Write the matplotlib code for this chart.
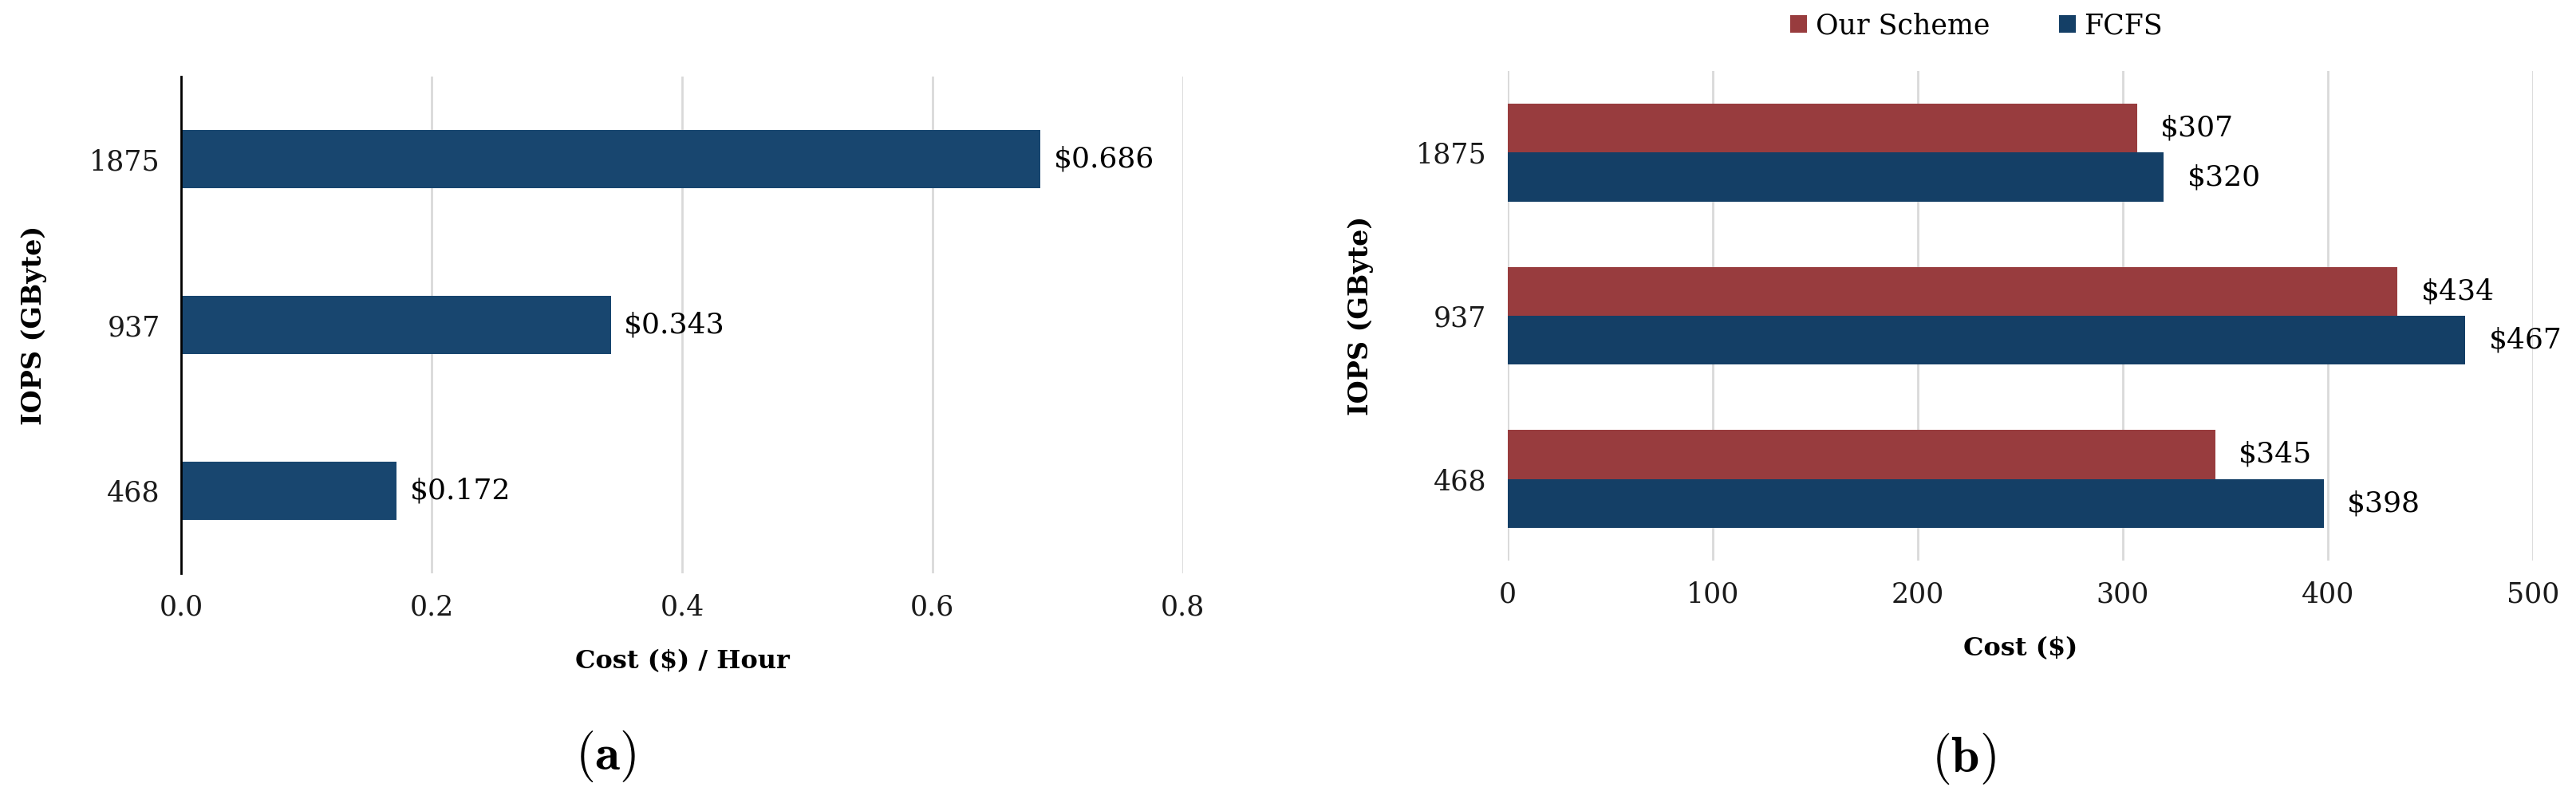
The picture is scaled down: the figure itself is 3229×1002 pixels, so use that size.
import matplotlib
matplotlib.use('Agg')
import matplotlib.pyplot as plt
import numpy as np

plt.rcParams['font.family'] = ['DejaVu Serif']
plt.rcParams['mathtext.fontset'] = 'cm'

iops = ['468', '937', '1875']
hourly_cost = [0.172, 0.343, 0.686]
our_scheme = [345, 434, 307]
fcfs = [398, 467, 320]

BLUE_A = '#18466F'
BLUE = '#143F66'
RED = '#983C3E'
GRID = '#D9D9D9'

fig = plt.figure(figsize=(32.3, 10.02), dpi=100)
ax1 = fig.add_axes([0.0703, 0.2824, 0.3888, 0.6218])
ax2 = fig.add_axes([0.5851, 0.2984, 0.3979, 0.6128])

y = np.arange(len(iops))

# (a) hourly cost
bars = ax1.barh(y, hourly_cost, height=0.35, color=BLUE_A, zorder=3)
ax1.bar_label(bars, labels=[f'${v:.3f}' for v in hourly_cost], padding=12, fontsize=26)
ax1.set_xlim(0, 0.8)
ax1.set_ylim(-0.5, 2.5)
ax1.set_xticks([0.0, 0.2, 0.4, 0.6, 0.8])
ax1.set_xticklabels(['0.0', '0.2', '0.4', '0.6', '0.8'])
ax1.set_yticks(y)
ax1.set_yticklabels(iops)
ax1.set_xlabel('Cost ($) / Hour', fontsize=23, fontweight='bold', labelpad=26)
ax1.set_ylabel('IOPS (GByte)', fontsize=24, fontweight='bold', labelpad=38)
ax1.grid(axis='x', color=GRID, linewidth=2, zorder=0)
for s in ['top', 'right', 'bottom']:
    ax1.spines[s].set_visible(False)
ax1.spines['left'].set_color('black')
ax1.spines['left'].set_linewidth(2)
ax1.spines['left'].set_zorder(4)

# (b) total cost
h = 0.3
r1 = ax2.barh(y + h / 2, our_scheme, height=h, color=RED, label='Our Scheme', zorder=3)
r2 = ax2.barh(y - h / 2, fcfs, height=h, color=BLUE, label='FCFS', zorder=3)
ax2.bar_label(r1, labels=[f'${v}' for v in our_scheme], padding=21, fontsize=26)
ax2.bar_label(r2, labels=[f'${v}' for v in fcfs], padding=21, fontsize=26)
ax2.set_xlim(0, 500)
ax2.set_ylim(-0.5, 2.5)
ax2.set_xticks([0, 100, 200, 300, 400, 500])
ax2.set_yticks(y)
ax2.set_yticklabels(iops)
ax2.set_xlabel('Cost ($)', fontsize=23, fontweight='bold', labelpad=26)
ax2.set_ylabel('IOPS (GByte)', fontsize=24, fontweight='bold', labelpad=38)
ax2.grid(axis='x', color=GRID, linewidth=2, zorder=0)
for s in ax2.spines.values():
    s.set_visible(False)

for ax in (ax1, ax2):
    ax.tick_params(axis='both', length=0, labelsize=25, colors='#1a1a1a')
    ax.tick_params(axis='x', pad=18)
    ax.tick_params(axis='y', pad=19)

fig.legend(handles=[r1, r2], loc='center', bbox_to_anchor=(0.767, 0.968), ncol=2,
           frameon=False, fontsize=25, handlelength=0.6, handleheight=0.6,
           handletextpad=0.3, columnspacing=2.5)

fig.text(0.235, 0.053, r'$(\mathbf{a})$', fontsize=46, ha='center', va='center')
fig.text(0.762, 0.050, r'$(\mathbf{b})$', fontsize=46, ha='center', va='center')

fig.savefig('out.png', dpi=100)
